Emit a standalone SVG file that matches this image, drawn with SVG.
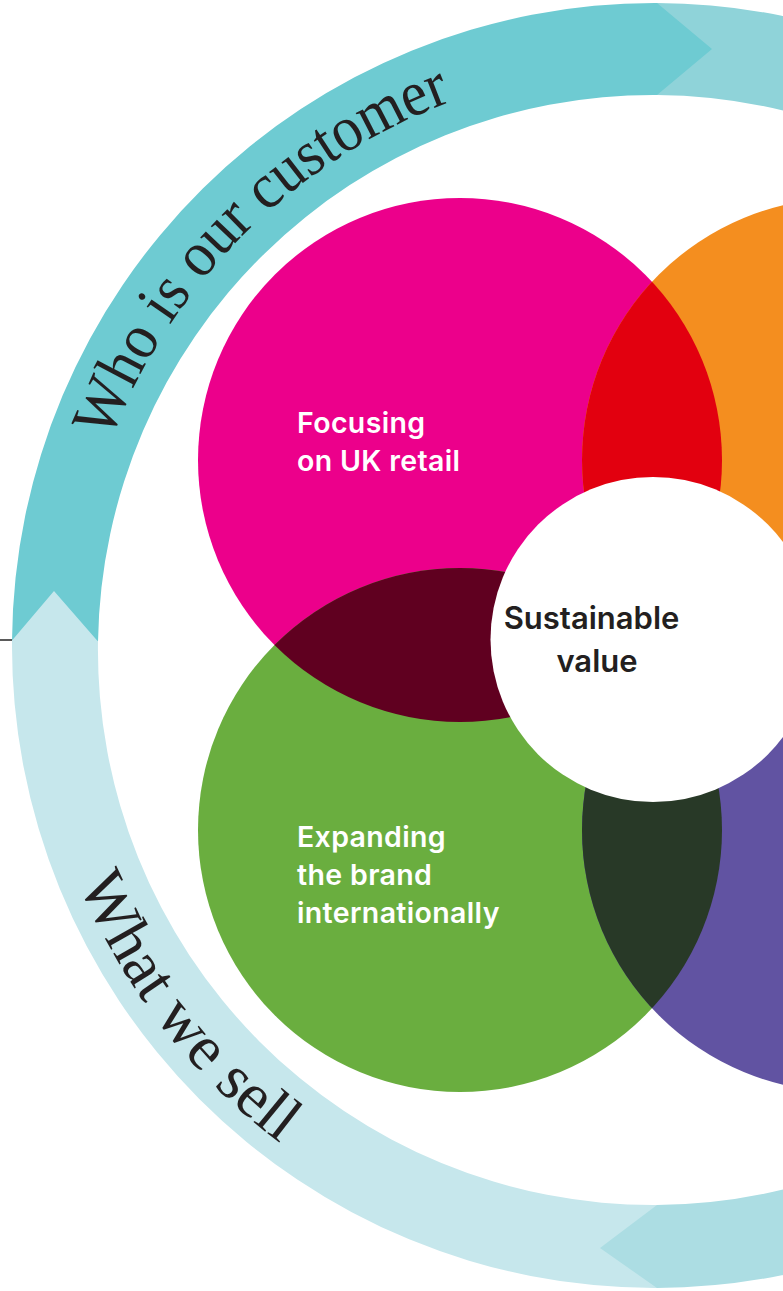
<svg xmlns="http://www.w3.org/2000/svg" width="783" height="1291" viewBox="0 0 783 1291">
  <style>
    .arc-label { font-family: "Liberation Serif", "DejaVu Serif", serif; font-size: 64px; fill: #231F20; }
    .lbl { font-family: Inter, "Noto Sans", sans-serif; font-weight: 600; font-size: 28.5px; letter-spacing: 0.35px; fill: #FFFFFF; }
    .core { font-family: Inter, "Noto Sans", sans-serif; font-weight: 600; font-size: 31px; fill: #231F20; text-anchor: middle; }
  </style>
  <defs>
    <clipPath id="clip-pink"><circle cx="460" cy="460" r="262"/></clipPath>
    <clipPath id="clip-green"><circle cx="460" cy="830" r="262"/></clipPath>
    <path id="arc-who" d="M 110.5 440.6 A 581 581 0 0 1 503.6 84.8"/>
    <path id="arc-what" d="M 78.9 883 A 622 622 0 0 0 343 1184.7"/>
  </defs>

  <rect width="783" height="1291" fill="#FFFFFF"/>

  <!-- rule meeting the ring on the left -->
  <line x1="0" y1="640" x2="12" y2="640" stroke="#5A5A5A" stroke-width="2"/>

  <!-- cycle arrows round the circles -->
  <g id="connectors">
    <!-- upper right band (its tail sits under the arrow before it) -->
    <path id="band-top-right" fill="#8FD3D9" d="M 657 3 A 642.5 642.5 0 0 1 1108.8 191.2 L 1045.4 257.6 A 555 555 0 0 0 657 95 Z"/>
    <!-- Who is our customer -->
    <path id="band-who" fill="#6ECBD2" d="M 12 640.5 A 642.5 642.5 0 0 1 657 3 L 712 49 L 657 95 A 555 555 0 0 0 98 641.5 Z"/>
    <!-- What we sell -->
    <path id="band-what" fill="#C6E7EC" d="M 657 1288 A 642.5 642.5 0 0 1 12 640.5 L 54 591 L 98 641.5 A 555 555 0 0 0 657 1205 Z"/>
    <!-- lower right band -->
    <path id="band-bottom-right" fill="#ACDDE3" d="M 657 1288 L 600 1248 L 657 1205 A 555 555 0 0 0 1045.4 1042.4 L 1108.8 1099.8 A 642.5 642.5 0 0 1 657 1288 Z"/>

    <text class="arc-label"><textPath href="#arc-who" textLength="496" lengthAdjust="spacingAndGlyphs">Who is our customer</textPath></text>
    <text class="arc-label"><textPath href="#arc-what" textLength="333" lengthAdjust="spacingAndGlyphs">What we sell</textPath></text>
  </g>

  <!-- four overlapping circles -->
  <g id="node-uk-retail">
    <circle cx="460" cy="460" r="262" fill="#EC008B"/>
  </g>
  <g id="node-orange">
    <circle cx="844" cy="460" r="262" fill="#F48E1F"/>
  </g>
  <g id="node-international">
    <circle cx="460" cy="830" r="262" fill="#6AAE3F"/>
  </g>
  <g id="node-purple">
    <circle cx="844" cy="830" r="262" fill="#6153A2"/>
  </g>

  <!-- lens shaped overlaps -->
  <g id="overlaps">
    <circle cx="844" cy="460" r="262" fill="#E2000F" clip-path="url(#clip-pink)"/>
    <circle cx="460" cy="830" r="262" fill="#600020" clip-path="url(#clip-pink)"/>
    <circle cx="844" cy="830" r="262" fill="#283927" clip-path="url(#clip-green)"/>
  </g>

  <g id="labels">
    <text class="lbl" x="297" y="433">Focusing<tspan x="297" dy="38">on UK retail</tspan></text>
    <text class="lbl" x="297" y="847">Expanding<tspan x="297" dy="38">the brand</tspan><tspan x="297" dy="38">internationally</tspan></text>
  </g>

  <g id="node-sustainable-value">
    <circle cx="653" cy="639.5" r="162.5" fill="#FFFFFF"/>
    <text class="core" x="591.5" y="629">Sustainable<tspan x="597" dy="43">value</tspan></text>
  </g>
</svg>
